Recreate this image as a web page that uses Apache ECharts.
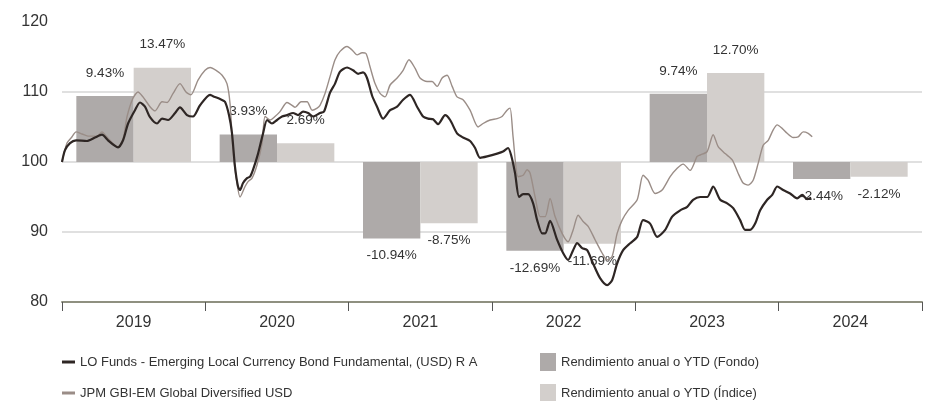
<!DOCTYPE html>
<html>
<head>
<meta charset="utf-8">
<script src="https://cdn.jsdelivr.net/npm/echarts@6/dist/echarts.min.js"></script>
<style>
html,body{margin:0;padding:0;background:#fff;}
#chart{width:928px;height:401px;}
</style>
</head>
<body>
<div id="chart"></div>
<script>
const years = ['2019','2020','2021','2022','2023','2024'];
const yearStarts = [2019, 2020, 2021, 2022, 2023, 2024];
const fondoReturns = [9.43, 3.93, -10.94, -12.69, 9.74, -2.44];
const indiceReturns = [13.47, 2.69, -8.75, -11.69, 12.70, -2.12];
const yTicks = {min: 80, max: 120, interval: 10};

const fundName = 'LO Funds - Emerging Local Currency Bond Fundamental, (USD) R A';
const indexName = 'JPM GBI-EM Global Diversified USD';
const fondoName = 'Rendimiento anual o YTD (Fondo)';
const indiceName = 'Rendimiento anual o YTD (Índice)';

// [decimal year, value]
const fundPoints = [
[2019.000,100.0],[2019.021,101.7],[2019.056,102.7],[2019.098,103.1],[2019.174,103.0],[2019.230,103.5],
[2019.279,103.9],[2019.321,103.1],[2019.370,102.3],[2019.391,102.1],[2019.426,103.1],[2019.461,105.5],
[2019.509,107.4],[2019.544,108.5],[2019.579,107.9],[2019.614,106.4],[2019.663,105.5],[2019.698,106.2],
[2019.740,106.0],[2019.789,107.0],[2019.823,107.8],[2019.872,106.7],[2019.914,106.5],[2019.963,108.1],
[2020.033,109.6],[2020.054,109.4],[2020.103,109.0],[2020.137,108.6],[2020.165,106.7],[2020.186,104.1],
[2020.207,99.3],[2020.228,96.5],[2020.242,96.0],[2020.263,97.0],[2020.291,97.7],[2020.312,97.9],
[2020.333,98.9],[2020.368,101.2],[2020.403,104.1],[2020.431,106.0],[2020.465,105.5],[2020.500,106.0],
[2020.535,106.5],[2020.570,106.7],[2020.612,107.0],[2020.647,106.7],[2020.682,107.2],[2020.717,107.0],
[2020.752,106.5],[2020.800,107.0],[2020.828,107.2],[2020.870,109.9],[2020.905,111.2],[2020.940,112.9],
[2020.989,113.5],[2021.031,113.1],[2021.066,112.6],[2021.100,112.8],[2021.128,112.0],[2021.163,109.5],
[2021.198,107.9],[2021.240,106.2],[2021.289,107.4],[2021.338,107.9],[2021.380,108.9],[2021.428,109.6],
[2021.477,107.9],[2021.519,106.5],[2021.554,106.2],[2021.589,106.1],[2021.624,105.4],[2021.673,106.7],
[2021.708,106.0],[2021.756,104.1],[2021.798,103.5],[2021.847,103.0],[2021.882,102.0],[2021.917,100.6],
[2021.966,100.8],[2022.036,101.2],[2022.077,101.5],[2022.112,102.0],[2022.133,101.0],[2022.161,98.4],
[2022.189,95.0],[2022.217,95.4],[2022.252,95.4],[2022.287,94.1],[2022.315,91.7],[2022.350,89.8],
[2022.371,89.8],[2022.405,91.6],[2022.454,88.9],[2022.496,87.0],[2022.531,86.0],[2022.566,87.4],
[2022.594,88.4],[2022.629,87.7],[2022.664,87.4],[2022.705,85.5],[2022.754,83.4],[2022.803,82.4],
[2022.838,83.1],[2022.873,85.5],[2022.915,87.4],[2022.964,88.4],[2023.013,89.3],[2023.054,91.7],
[2023.103,91.2],[2023.152,89.3],[2023.208,90.3],[2023.257,92.2],[2023.313,93.1],[2023.362,93.6],
[2023.403,94.6],[2023.452,95.0],[2023.501,95.0],[2023.543,96.5],[2023.592,94.6],[2023.641,94.1],
[2023.683,93.4],[2023.731,91.7],[2023.766,90.3],[2023.801,90.3],[2023.836,91.2],[2023.871,93.1],
[2023.920,94.6],[2023.955,95.3],[2023.990,96.5],[2024.031,96.0],[2024.080,95.5],[2024.129,94.8],
[2024.164,95.3],[2024.199,94.7],[2024.227,94.9]
];

const indexPoints = [
[2019.000,100.0],[2019.035,102.7],[2019.070,103.6],[2019.098,104.3],[2019.140,104.0],[2019.181,103.7],
[2019.244,103.7],[2019.279,104.3],[2019.300,103.9],[2019.321,103.4],[2019.370,102.4],[2019.391,102.2],
[2019.426,103.3],[2019.454,106.5],[2019.495,109.1],[2019.530,110.0],[2019.565,109.3],[2019.614,107.9],
[2019.649,107.3],[2019.698,108.6],[2019.733,108.5],[2019.775,109.8],[2019.823,111.2],[2019.865,110.0],
[2019.900,109.6],[2019.949,111.7],[2019.998,113.1],[2020.033,113.5],[2020.075,113.1],[2020.117,112.4],
[2020.151,111.2],[2020.172,108.4],[2020.193,101.7],[2020.221,97.0],[2020.242,95.0],[2020.277,96.5],
[2020.298,97.2],[2020.326,97.7],[2020.361,99.6],[2020.396,102.7],[2020.417,106.5],[2020.452,106.0],
[2020.486,106.5],[2020.521,107.2],[2020.570,108.5],[2020.605,108.1],[2020.626,107.8],[2020.668,108.6],
[2020.710,108.6],[2020.745,107.4],[2020.780,107.7],[2020.800,108.1],[2020.835,109.8],[2020.870,112.2],
[2020.905,114.6],[2020.940,115.8],[2020.989,116.5],[2021.024,116.0],[2021.059,115.3],[2021.094,115.6],
[2021.121,115.5],[2021.149,113.6],[2021.184,111.2],[2021.219,109.8],[2021.254,109.3],[2021.289,111.0],
[2021.338,112.0],[2021.380,113.1],[2021.421,114.6],[2021.463,113.4],[2021.498,112.0],[2021.547,111.5],
[2021.582,111.5],[2021.617,110.8],[2021.652,112.0],[2021.687,112.4],[2021.722,110.8],[2021.756,109.3],
[2021.798,108.9],[2021.847,107.4],[2021.903,105.0],[2021.938,105.5],[2021.987,106.0],[2022.036,106.2],
[2022.070,106.5],[2022.105,107.4],[2022.126,107.7],[2022.147,103.6],[2022.182,97.9],[2022.217,98.1],
[2022.245,98.9],[2022.266,98.4],[2022.301,95.0],[2022.336,92.2],[2022.371,92.2],[2022.405,94.8],
[2022.440,92.2],[2022.489,89.8],[2022.531,88.6],[2022.566,90.3],[2022.601,92.4],[2022.636,91.5],
[2022.671,90.8],[2022.719,88.9],[2022.768,87.0],[2022.803,86.0],[2022.838,86.5],[2022.873,89.8],
[2022.908,91.7],[2022.950,93.1],[2023.013,94.6],[2023.054,98.1],[2023.089,97.4],[2023.138,95.5],
[2023.187,96.0],[2023.243,97.9],[2023.292,99.1],[2023.334,99.7],[2023.382,98.8],[2023.431,100.8],
[2023.452,101.0],[2023.501,101.5],[2023.543,103.9],[2023.578,102.2],[2023.627,101.2],[2023.676,100.3],
[2023.717,98.4],[2023.752,97.0],[2023.787,96.7],[2023.822,97.4],[2023.857,99.8],[2023.892,102.4],
[2023.927,103.1],[2023.962,104.6],[2023.990,105.3],[2024.024,104.8],[2024.059,104.1],[2024.101,103.5],
[2024.136,103.6],[2024.171,104.3],[2024.206,104.1],[2024.234,103.6]
];

const fontFam = '"Liberation Sans",Arial,sans-serif';

function barRenderer(startOffset, width) {
  return function (params, api) {
    const x0 = api.value(0);
    const r = api.value(1);
    const p1 = api.coord([x0 + startOffset, 100]);
    const p2 = api.coord([x0 + startOffset + width, 100 + r]);
    const left = Math.min(p1[0], p2[0]);
    const top = Math.min(p1[1], p2[1]);
    const w = Math.abs(p2[0] - p1[0]);
    const h = Math.abs(p2[1] - p1[1]);
    const cx = left + w / 2;
    const ty = r >= 0 ? top - 23 : top + h + 17;
    return {
      type: 'group',
      children: [
        {type: 'rect', shape: {x: left, y: top, width: w, height: h}, style: {fill: api.visual('color')}},
        {type: 'text', style: {x: cx, y: ty, text: r.toFixed(2) + '%', fill: '#333',
          font: '13.5px ' + fontFam, textAlign: 'center', textVerticalAlign: 'middle'}}
      ]
    };
  };
}

const chart = echarts.init(document.getElementById('chart'));
chart.setOption({
  animation: false,
  grid: {left: 62, right: 6, top: 22, bottom: 99, containLabel: false},
  legend: [
    {left: 62, top: 353, height: 60, orient: 'vertical', padding: 0, itemGap: 13,
     icon: 'rect', itemWidth: 13, itemHeight: 3,
     data: [fundName, indexName],
     textStyle: {fontFamily: fontFam, fontSize: 13, color: '#333', lineHeight: 18}},
    {left: 540, top: 353, height: 60, orient: 'vertical', padding: 0, itemGap: 13,
     icon: 'rect', itemWidth: 16, itemHeight: 18,
     data: [fondoName, indiceName],
     textStyle: {fontFamily: fontFam, fontSize: 13, color: '#333', lineHeight: 18}}
  ],
  xAxis: [
    {type: 'category', data: years, boundaryGap: true, position: 'bottom',
     axisLine: {show: true, lineStyle: {color: '#8f9080', width: 2}},
     axisTick: {show: true, length: 9, lineStyle: {color: '#555', width: 1}},
     axisLabel: {fontFamily: fontFam, fontSize: 16, color: '#333', margin: 13},
     splitLine: {show: false}},
    {type: 'value', min: 2019, max: 2025, show: false}
  ],
  yAxis: {type: 'value', min: yTicks.min, max: yTicks.max, interval: yTicks.interval,
    axisLine: {show: false}, axisTick: {show: false},
    axisLabel: {fontFamily: fontFam, fontSize: 16, color: '#333', margin: 14},
    splitLine: {show: true, showMaxLine: false, lineStyle: {color: '#d6d6d6', width: 1.5}}},
  series: [
    {name: fondoName, type: 'custom', xAxisIndex: 1, z: 1, itemStyle: {color: '#aeaaa9'},
     renderItem: barRenderer(0.1, 0.4),
     data: yearStarts.map((y, i) => [y, fondoReturns[i]])},
    {name: indiceName, type: 'custom', xAxisIndex: 1, z: 1, itemStyle: {color: '#d3cfcc'},
     renderItem: barRenderer(0.5, 0.4),
     data: yearStarts.map((y, i) => [y, indiceReturns[i]])},
    {name: indexName, type: 'line', xAxisIndex: 1, z: 3, showSymbol: false, smooth: 0.25,
     lineStyle: {color: '#9a8d87', width: 1.4}, itemStyle: {color: '#9a8d87'},
     data: indexPoints},
    {name: fundName, type: 'line', xAxisIndex: 1, z: 4, showSymbol: false, smooth: 0.25,
     lineStyle: {color: '#2e2624', width: 2.2}, itemStyle: {color: '#2e2624'},
     data: fundPoints}
  ]
});
</script>
</body>
</html>
